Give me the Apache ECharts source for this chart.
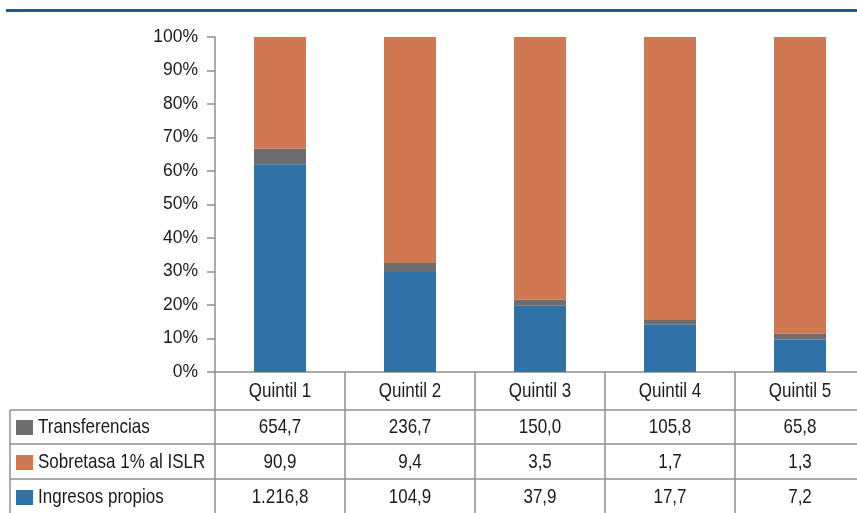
<!DOCTYPE html>
<html>
<head>
<meta charset="utf-8">
<script src="https://cdn.jsdelivr.net/npm/echarts@6/dist/echarts.min.js"></script>
<style>
  html, body { margin: 0; padding: 0; background: #ffffff; overflow: hidden; }
  /* the table's last column runs a little past the right edge of the page */
  #chart { width: 866px; height: 513px; }
</style>
</head>
<body>
<div id="chart"></div>
<script>
// Categories and source values (millions), as listed in the data table
const categories = ['Quintil 1', 'Quintil 2', 'Quintil 3', 'Quintil 4', 'Quintil 5'];
const transferencias = [654.7, 236.7, 150.0, 105.8, 65.8];
const sobretasa = [90.9, 9.4, 3.5, 1.7, 1.3];
const ingresosPropios = [1216.8, 104.9, 37.9, 17.7, 7.2];

// Table row labels
const rowLabels = ['Transferencias', 'Sobretasa 1% al ISLR', 'Ingresos propios'];

const BLUE = '#3072a8';
const GREY = '#6d6d70';
const ORANGE = '#d07852';
const LINE = '#8f8f8f';
const TEXT = '#1a1a1a';
const FONT = '"Liberation Sans", Arial, sans-serif';

// Share of each component in the quintile total, in percent
const totals = categories.map((_, i) => transferencias[i] + sobretasa[i] + ingresosPropios[i]);
const share = arr => arr.map((v, i) => v / totals[i] * 100);

// Spanish number format: 1.216,8
function fmt(v) {
  const [intPart, dec] = v.toFixed(1).split('.');
  return intPart.replace(/\B(?=(\d{3})+(?!\d))/g, '.') + ',' + dec;
}

const chart = echarts.init(document.getElementById('chart'));

chart.setOption({
  animation: false,
  grid: { left: 215, top: 37, width: 650, height: 335 },
  xAxis: {
    type: 'category',
    data: categories,
    boundaryGap: true,
    axisLine: { lineStyle: { color: LINE, width: 1.5 } },
    axisTick: { show: true, alignWithLabel: false, length: 141, lineStyle: { color: LINE, width: 1.5 } },
    axisLabel: { show: false }
  },
  yAxis: {
    type: 'value',
    min: 0, max: 100, interval: 10,
    axisLine: { show: true, lineStyle: { color: LINE, width: 1.5 } },
    axisTick: { show: true, length: 8, lineStyle: { color: LINE, width: 1.5 } },
    splitLine: { show: false },
    axisLabel: { formatter: '{value}%', color: TEXT, fontSize: 17.5, fontFamily: FONT, margin: 17 }
  },
  series: [
    { name: 'Ingresos propios', type: 'bar', stack: 'total', barWidth: 52,
      itemStyle: { color: BLUE }, data: share(ingresosPropios) },
    { name: 'Sobretasa 1% al ISLR', type: 'bar', stack: 'total', barWidth: 52,
      itemStyle: { color: GREY }, data: share(sobretasa) },
    { name: 'Transferencias', type: 'bar', stack: 'total', barWidth: 52,
      itemStyle: { color: ORANGE }, data: share(transferencias) }
  ]
});

// Data table under the plot: header row, three value rows with colour keys
const rows = [
  { label: rowLabels[0], key: GREY, values: transferencias },
  { label: rowLabels[1], key: ORANGE, values: sobretasa },
  { label: rowLabels[2], key: BLUE, values: ingresosPropios }
];
const headerY = 391;
const rowY = [427, 462, 497];
const rowLines = [410, 444, 479];
const tableLeft = 10;
const tableRight = 865;

function cellText(text, x, y, align) {
  return {
    type: 'text', x: x, y: y, scaleY: 1.2, silent: true,
    style: { text: text, fill: TEXT, font: '17px ' + FONT,
             textAlign: align || 'center', textVerticalAlign: 'middle' }
  };
}

const graphics = [];
// rule across the top of the page
graphics.push({ type: 'rect', shape: { x: 6, y: 9, width: 860, height: 3 },
                style: { fill: '#1b5b8e' }, silent: true });
rowLines.forEach(y => graphics.push({
  type: 'line', silent: true,
  shape: { x1: tableLeft, y1: y, x2: tableRight, y2: y },
  style: { stroke: LINE, lineWidth: 1.5 }
}));
graphics.push({ type: 'line', silent: true,
  shape: { x1: tableLeft, y1: rowLines[0], x2: tableLeft, y2: 513 },
  style: { stroke: LINE, lineWidth: 1.5 } });

categories.forEach((c, i) => {
  const cx = chart.convertToPixel({ xAxisIndex: 0 }, c);
  graphics.push(cellText(c, cx, headerY));
  rows.forEach((r, j) => graphics.push(cellText(fmt(r.values[i]), cx, rowY[j])));
});
rows.forEach((r, j) => {
  graphics.push({ type: 'rect', silent: true,
    shape: { x: 16, y: rowY[j] - 7, width: 17, height: 15 },
    style: { fill: r.key } });
  graphics.push(cellText(r.label, 38, rowY[j], 'left'));
});

chart.setOption({ graphic: graphics });
</script>
</body>
</html>
